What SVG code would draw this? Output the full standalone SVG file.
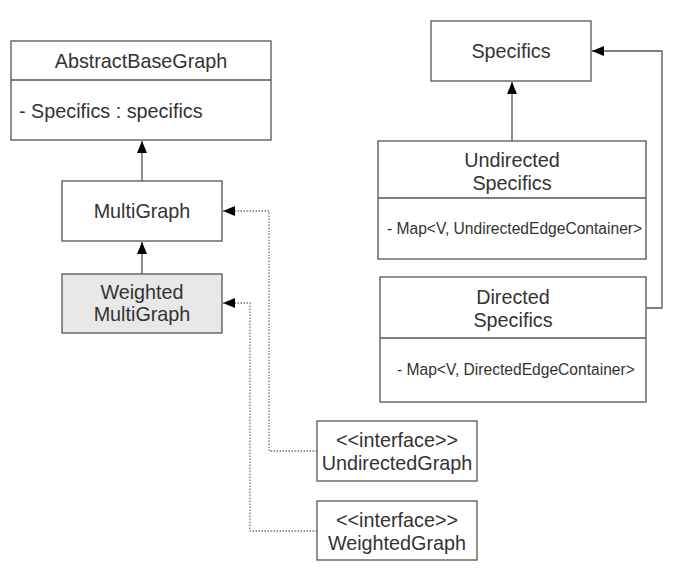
<svg xmlns="http://www.w3.org/2000/svg" width="680" height="580" viewBox="0 0 680 580">
<style>
.box{fill:#fff;stroke:#555;stroke-width:1.3}
.gray{fill:#e8e8e8}
.t{font-family:"Liberation Sans",Arial,sans-serif;font-size:19.8px;fill:#333;text-anchor:middle}
.s{font-family:"Liberation Sans",Arial,sans-serif;font-size:15.6px;fill:#333}
.ln{fill:none;stroke:#555;stroke-width:1.3}
.dot{fill:none;stroke:#777;stroke-width:1.3;stroke-dasharray:1.5 1.5}
</style>
<defs>
<marker id="ah" markerWidth="14" markerHeight="12" refX="12" refY="5" orient="auto" markerUnits="userSpaceOnUse">
<path d="M0,0 L12,5 L0,10 z" fill="#000"/>
</marker>
</defs>
<rect width="680" height="580" fill="#fff"/>
<g id="connectors">
<path class="ln" d="M142,181 V141" marker-end="url(#ah)"/>
<path class="ln" d="M142,274 V242" marker-end="url(#ah)"/>
<path class="dot" d="M317,451 H269 V211 H223" marker-end="url(#ah)"/>
<path class="dot" d="M317,531 H250 V303 H223" marker-end="url(#ah)"/>
<path class="ln" d="M512,141 V82" marker-end="url(#ah)"/>
<path class="ln" d="M646,308 H662 V51 H592" marker-end="url(#ah)"/>
</g>
<g id="AbstractBaseGraph">
<rect class="box" x="11" y="41" width="260" height="99"/>
<line class="ln" x1="11" y1="80" x2="271" y2="80"/>
<text class="t" x="141" y="68">AbstractBaseGraph</text>
<text class="t" x="19" y="118" style="text-anchor:start">- Specifics : specifics</text>
</g>
<g id="MultiGraph">
<rect class="box" x="62" y="181" width="160" height="60"/>
<text class="t" x="142" y="218">MultiGraph</text>
</g>
<g id="WeightedMultiGraph">
<rect class="box gray" x="62" y="274" width="160" height="59"/>
<text class="t" x="142" y="299">Weighted</text>
<text class="t" x="142" y="321">MultiGraph</text>
</g>
<g id="Specifics">
<rect class="box" x="431" y="21" width="160" height="60"/>
<text class="t" x="511" y="58">Specifics</text>
</g>
<g id="UndirectedSpecifics">
<rect class="box" x="378" y="141" width="268" height="118"/>
<line class="ln" x1="378" y1="198" x2="646" y2="198"/>
<text class="t" x="512" y="167">Undirected</text>
<text class="t" x="512" y="190">Specifics</text>
<text class="s" x="387" y="234">- Map&lt;V, UndirectedEdgeContainer&gt;</text>
</g>
<g id="DirectedSpecifics">
<rect class="box" x="380" y="277" width="266" height="125"/>
<line class="ln" x1="380" y1="338" x2="646" y2="338"/>
<text class="t" x="513" y="304">Directed</text>
<text class="t" x="513" y="327">Specifics</text>
<text class="s" x="397" y="375">- Map&lt;V, DirectedEdgeContainer&gt;</text>
</g>
<g id="UndirectedGraph">
<rect class="box" x="317" y="421" width="160" height="60"/>
<text class="t" x="397" y="447">&lt;&lt;interface&gt;&gt;</text>
<text class="t" x="397" y="470">UndirectedGraph</text>
</g>
<g id="WeightedGraph">
<rect class="box" x="317" y="501" width="160" height="59"/>
<text class="t" x="397" y="527">&lt;&lt;interface&gt;&gt;</text>
<text class="t" x="397" y="550">WeightedGraph</text>
</g>
</svg>
